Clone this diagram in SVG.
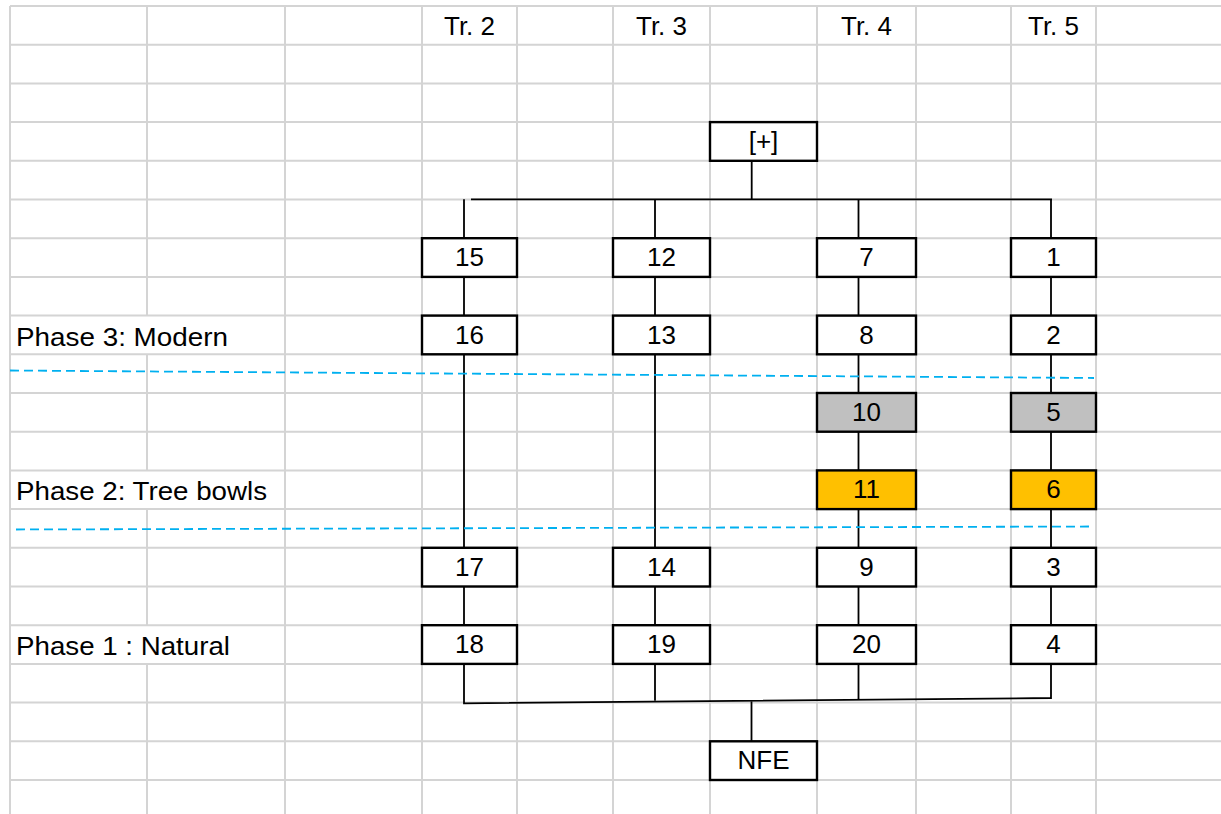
<svg xmlns="http://www.w3.org/2000/svg" width="1221" height="814" viewBox="0 0 1221 814">
<style>
.g{stroke:#D4D4D4;stroke-width:2;fill:none}
.c{stroke:#000;stroke-width:1.8;fill:none}
.d{stroke:#00B0F0;stroke-width:1.8;stroke-dasharray:9 5;fill:none}
.b{stroke:#000;stroke-width:2.4;fill:#fff}
.gr{fill:#C0C0C0}
.or{fill:#FFC000}
text{font-family:"Liberation Sans",Arial,sans-serif;font-size:26px;fill:#000}
.m{text-anchor:middle}
</style>
<rect width="1221" height="814" fill="#fff"/>
<g id="grid">
<path class="g" d="M10,6H1221M10,44.7H1221M10,83.4H1221M10,122.1H1221M10,160.8H1221M10,199.5H1221M10,238.2H1221M10,276.9H1221M10,315.6H1221M10,354.3H1221M10,393H1221M10,431.7H1221M10,470.4H1221M10,509.1H1221M10,547.8H1221M10,586.5H1221M10,625.2H1221M10,663.9H1221M10,702.6H1221M10,741.3H1221M10,780H1221"/>
<path class="g" d="M10,6V814M147,6V315.6M147,354.3V470.4M147,509.1V625.2M147,663.9V814M285,6V814M422,6V814M517,6V814M613,6V814M710,6V814M817,6V814M916,6V814M1011,6V814M1096,6V814"/>
</g>
<g id="labels">
<text class="m" x="469.5" y="35">Tr. 2</text>
<text class="m" x="661.5" y="35">Tr. 3</text>
<text class="m" x="866.5" y="35">Tr. 4</text>
<text class="m" x="1053.5" y="35">Tr. 5</text>
<text x="16" y="346" textLength="212" lengthAdjust="spacingAndGlyphs">Phase 3: Modern</text>
<text x="16" y="500" textLength="251" lengthAdjust="spacingAndGlyphs">Phase 2: Tree bowls</text>
<text x="16" y="655" textLength="214" lengthAdjust="spacingAndGlyphs">Phase 1 : Natural</text>
</g>
<g id="connectors">
<path class="c" d="M751.7,160.8V199.3M471,199.3H1052"/>
<path class="c" d="M464,199.3V238.2M655,199.3V238.2M858.5,199.3V238.2M1051,199.3V238.2"/>
<path class="c" d="M464,276.9V315.6M464,354.3V547.8M464,586.5V625.2"/>
<path class="c" d="M655,276.9V315.6M655,354.3V547.8M655,586.5V625.2"/>
<path class="c" d="M858.5,276.9V315.6M858.5,354.3V393M858.5,431.7V470.4M858.5,509.1V547.8M858.5,586.5V625.2"/>
<path class="c" d="M1051,276.9V315.6M1051,354.3V393M1051,431.7V470.4M1051,509.1V547.8M1051,586.5V625.2"/>
<path class="c" d="M464,663.9V703.3L1051,698V663.9M655,663.9V700.5M858.5,663.9V699.8M751.5,700.8V741.3"/>
</g>
<g id="phase-lines">
<path class="d" d="M10,370.5L1094,378"/>
<path class="d" d="M16,529.5L1092,526.5"/>
</g>
<g id="node-plus"><rect class="b" x="710" y="122.1" width="107" height="38.7"/><text class="m" x="763.5" y="150.1">[+]</text></g>
<g id="node-15"><rect class="b" x="422" y="238.2" width="95" height="38.7"/><text class="m" x="469.5" y="266.2">15</text></g>
<g id="node-12"><rect class="b" x="613" y="238.2" width="97" height="38.7"/><text class="m" x="661.5" y="266.2">12</text></g>
<g id="node-7"><rect class="b" x="817" y="238.2" width="99" height="38.7"/><text class="m" x="866.5" y="266.2">7</text></g>
<g id="node-1"><rect class="b" x="1011" y="238.2" width="85" height="38.7"/><text class="m" x="1053.5" y="266.2">1</text></g>
<g id="node-16"><rect class="b" x="422" y="315.6" width="95" height="38.7"/><text class="m" x="469.5" y="343.6">16</text></g>
<g id="node-13"><rect class="b" x="613" y="315.6" width="97" height="38.7"/><text class="m" x="661.5" y="343.6">13</text></g>
<g id="node-8"><rect class="b" x="817" y="315.6" width="99" height="38.7"/><text class="m" x="866.5" y="343.6">8</text></g>
<g id="node-2"><rect class="b" x="1011" y="315.6" width="85" height="38.7"/><text class="m" x="1053.5" y="343.6">2</text></g>
<g id="node-10"><rect class="b gr" x="817" y="393" width="99" height="38.7"/><text class="m" x="866.5" y="421">10</text></g>
<g id="node-5"><rect class="b gr" x="1011" y="393" width="85" height="38.7"/><text class="m" x="1053.5" y="421">5</text></g>
<g id="node-11"><rect class="b or" x="817" y="470.4" width="99" height="38.7"/><text class="m" x="866.5" y="498.4">11</text></g>
<g id="node-6"><rect class="b or" x="1011" y="470.4" width="85" height="38.7"/><text class="m" x="1053.5" y="498.4">6</text></g>
<g id="node-17"><rect class="b" x="422" y="547.8" width="95" height="38.7"/><text class="m" x="469.5" y="575.8">17</text></g>
<g id="node-14"><rect class="b" x="613" y="547.8" width="97" height="38.7"/><text class="m" x="661.5" y="575.8">14</text></g>
<g id="node-9"><rect class="b" x="817" y="547.8" width="99" height="38.7"/><text class="m" x="866.5" y="575.8">9</text></g>
<g id="node-3"><rect class="b" x="1011" y="547.8" width="85" height="38.7"/><text class="m" x="1053.5" y="575.8">3</text></g>
<g id="node-18"><rect class="b" x="422" y="625.2" width="95" height="38.7"/><text class="m" x="469.5" y="653.2">18</text></g>
<g id="node-19"><rect class="b" x="613" y="625.2" width="97" height="38.7"/><text class="m" x="661.5" y="653.2">19</text></g>
<g id="node-20"><rect class="b" x="817" y="625.2" width="99" height="38.7"/><text class="m" x="866.5" y="653.2">20</text></g>
<g id="node-4"><rect class="b" x="1011" y="625.2" width="85" height="38.7"/><text class="m" x="1053.5" y="653.2">4</text></g>
<g id="node-nfe"><rect class="b" x="710" y="741.3" width="107" height="38.7"/><text class="m" x="763.5" y="769.3">NFE</text></g>
</svg>
